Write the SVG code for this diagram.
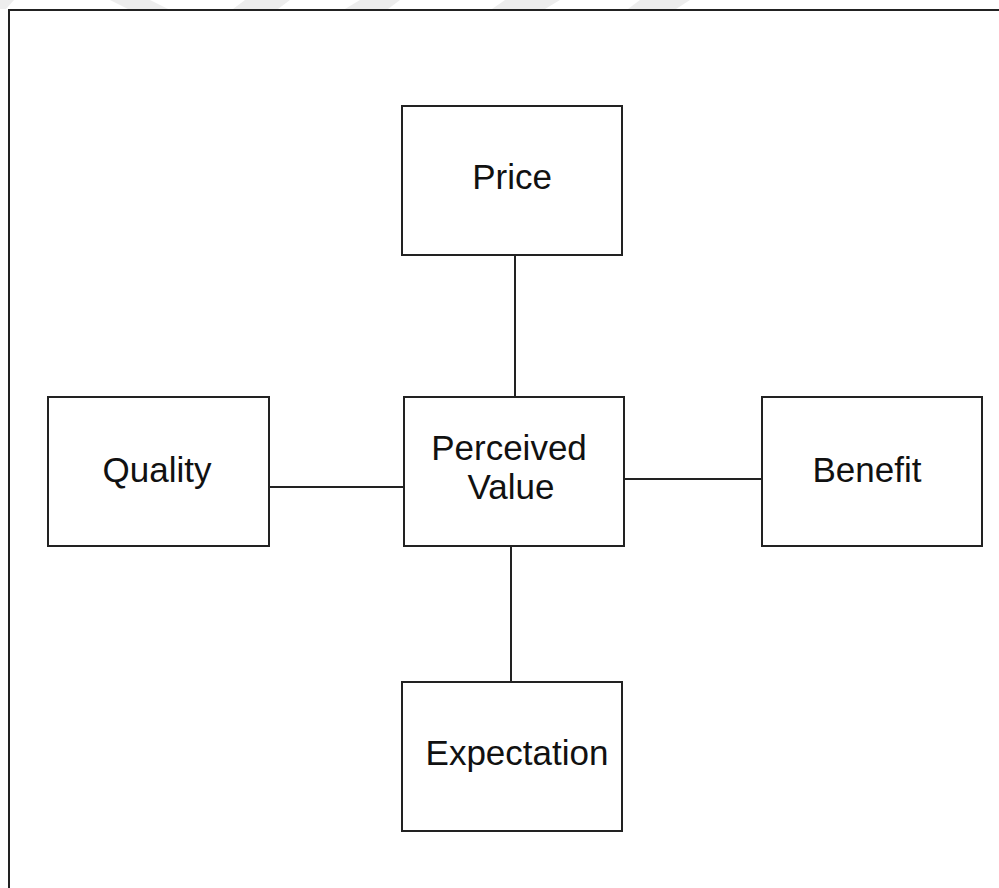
<svg xmlns="http://www.w3.org/2000/svg" width="999" height="888" viewBox="0 0 999 888">
<style>
.box{fill:#fff;stroke:#222;stroke-width:2}
.lbl{font-family:"Liberation Sans",Arial,sans-serif;font-size:35px;fill:#111;text-anchor:middle}
.wm{fill:#ededed}
.edge{stroke:#222;stroke-width:2;fill:none}
</style>
<rect x="0" y="0" width="999" height="888" fill="#fff"/>
<g id="watermark">
<polygon class="wm" points="0,0 14,0 6,9 0,9"/>
<polygon class="wm" points="110,0 150,0 168,9 128,9"/>
<polygon class="wm" points="245,0 290,0 278,9 233,9"/>
<polygon class="wm" points="360,0 400,0 388,9 345,9"/>
<polygon class="wm" points="505,0 560,0 545,9 492,9"/>
<polygon class="wm" points="640,0 690,0 676,9 628,9"/>
</g>
<path class="edge" d="M9,888 V10 H999"/>
<g id="connectors">
<line class="edge" x1="515" y1="255" x2="515" y2="397"/>
<line class="edge" x1="269" y1="487" x2="404" y2="487"/>
<line class="edge" x1="624" y1="479" x2="762" y2="479"/>
<line class="edge" x1="511" y1="546" x2="511" y2="682"/>
</g>
<g id="price">
<rect class="box" x="402" y="106" width="220" height="149"/>
<text class="lbl" x="512" y="189">Price</text>
</g>
<g id="perceived-value">
<rect class="box" x="404" y="397" width="220" height="149"/>
<text class="lbl" x="509" y="460">Perceived</text>
<text class="lbl" x="511" y="499">Value</text>
</g>
<g id="quality">
<rect class="box" x="48" y="397" width="221" height="149"/>
<text class="lbl" x="157" y="482">Quality</text>
</g>
<g id="benefit">
<rect class="box" x="762" y="397" width="220" height="149"/>
<text class="lbl" x="867" y="482">Benefit</text>
</g>
<g id="expectation">
<rect class="box" x="402" y="682" width="220" height="149"/>
<text class="lbl" x="517" y="765">Expectation</text>
</g>
</svg>
